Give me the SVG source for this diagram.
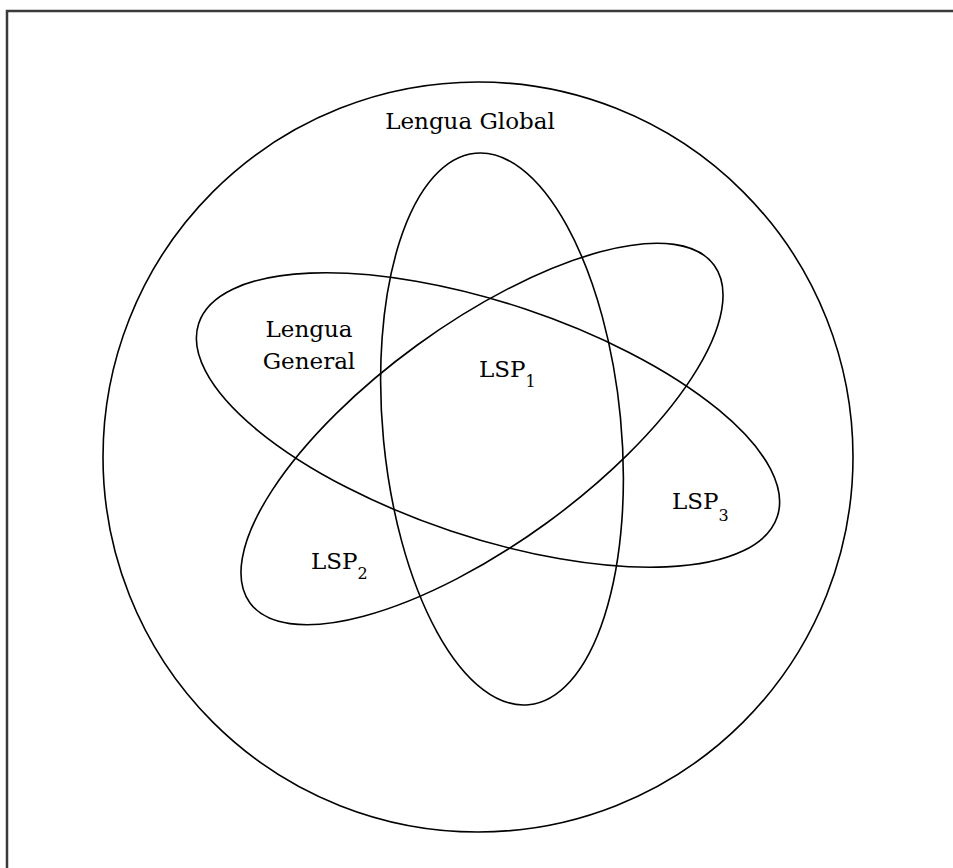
<svg xmlns="http://www.w3.org/2000/svg" width="953" height="868" viewBox="0 0 953 868">
<style>
.s{fill:none;stroke:#000;stroke-width:1.6}
.t{font-family:"DejaVu Serif","Liberation Serif",serif;font-size:23px;fill:#000}
.sub{font-size:16px}
</style>
<rect x="0" y="0" width="953" height="868" fill="#fff"/>
<path d="M7,868 V11 H953" fill="none" stroke="#3a3a3a" stroke-width="2.5"/>
<g id="global">
<circle class="s" cx="478" cy="457" r="375"/>
<text class="t" x="470" y="129" text-anchor="middle">Lengua Global</text>
</g>
<g id="lsp1">
<ellipse class="s" cx="502" cy="429" rx="119" ry="277" transform="rotate(-5.5 502 429)"/>
<text class="t" x="479" y="377">LSP<tspan class="sub" dy="10">1</tspan></text>
</g>
<g id="lsp2">
<ellipse class="s" cx="482" cy="434" rx="287" ry="110" transform="rotate(-36 482 434)"/>
<text class="t" x="311" y="569">LSP<tspan class="sub" dy="10">2</tspan></text>
</g>
<g id="lengua-general">
<ellipse class="s" cx="488" cy="420" rx="305" ry="117" transform="rotate(18.5 488 420)"/>
<text class="t" x="309" y="337" text-anchor="middle">Lengua</text>
<text class="t" x="309" y="369" text-anchor="middle">General</text>
<text class="t" x="672" y="509">LSP<tspan class="sub" dy="12">3</tspan></text>
</g>
</svg>
